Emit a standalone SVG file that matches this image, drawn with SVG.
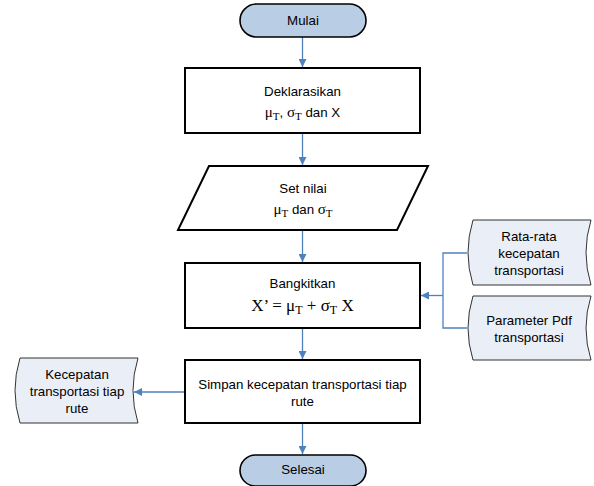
<svg xmlns="http://www.w3.org/2000/svg" width="594" height="486" viewBox="0 0 594 486">
<defs>
<style>
.term{fill:#B9CDE5;stroke:#000;stroke-width:1.6}
.box{fill:#fff;stroke:#000;stroke-width:2}
.data{fill:#E9EEF7;stroke:#333;stroke-width:1}
.t{font-family:"Liberation Sans",Arial,sans-serif;font-size:13.3px;fill:#000;text-anchor:middle}
.s{font-family:"Liberation Serif","Times New Roman",serif;font-size:15px}
.sub{font-size:11px}
.m{font-family:"Liberation Serif","Times New Roman",serif;font-size:17px;fill:#000;text-anchor:middle}
.m .sub{font-size:12px}
.c{fill:none;stroke:#4F81BD;stroke-width:1.3}
</style>
<marker id="ah" viewBox="0 0 10 10" refX="10" refY="5" markerWidth="8" markerHeight="8" markerUnits="userSpaceOnUse" orient="auto">
<path d="M0,0 L10,5 L0,10 Z" fill="#4F81BD"/>
</marker>
</defs>
<g id="connectors">
<line class="c" x1="302.5" y1="37" x2="302.5" y2="67" marker-end="url(#ah)"/>
<line class="c" x1="302.5" y1="133" x2="302.5" y2="165" marker-end="url(#ah)"/>
<line class="c" x1="302.5" y1="230" x2="302.5" y2="262" marker-end="url(#ah)"/>
<line class="c" x1="302.5" y1="328" x2="302.5" y2="359" marker-end="url(#ah)"/>
<line class="c" x1="302.5" y1="423" x2="302.5" y2="454" marker-end="url(#ah)"/>
<line class="c" x1="185" y1="392" x2="134" y2="392" marker-end="url(#ah)"/>
<path class="c" d="M467,253 H443 V328 H467"/>
<line class="c" x1="443" y1="295.5" x2="421" y2="295.5" marker-end="url(#ah)"/>
</g>
<g id="mulai">
<rect class="term" x="240" y="4" width="126" height="33" rx="16.5"/>
<text class="t" x="303" y="25">Mulai</text>
</g>
<g id="deklarasikan">
<rect class="box" x="185" y="68" width="235" height="65"/>
<text class="t" x="302.5" y="96">Deklarasikan</text>
<text class="t" x="302.5" y="117"><tspan class="s">μ</tspan><tspan class="s sub" dy="3">T</tspan><tspan dy="-3">, </tspan><tspan class="s">σ</tspan><tspan class="s sub" dy="3">T</tspan><tspan dy="-3"> dan X</tspan></text>
</g>
<g id="setnilai">
<path class="box" d="M209,166 H428 L397,230 H178 Z"/>
<text class="t" x="303" y="193">Set nilai</text>
<text class="t" x="303" y="214"><tspan class="s">μ</tspan><tspan class="s sub" dy="3">T</tspan><tspan dy="-3"> dan </tspan><tspan class="s">σ</tspan><tspan class="s sub" dy="3">T</tspan></text>
</g>
<g id="bangkitkan">
<rect class="box" x="185" y="263" width="235" height="65"/>
<text class="t" x="302.5" y="288">Bangkitkan</text>
<text class="m" x="302.5" y="311">X’ = μ<tspan class="sub" dy="3">T</tspan><tspan dy="-3"> +  σ</tspan><tspan class="sub" dy="3">T</tspan><tspan dy="-3"> X</tspan></text>
</g>
<g id="simpan">
<rect class="box" x="185" y="360" width="235" height="63"/>
<text class="t" x="302.5" y="389">Simpan kecepatan transportasi tiap</text>
<text class="t" x="302.5" y="406">rute</text>
</g>
<g id="selesai">
<rect class="term" x="240" y="455" width="126" height="31" rx="15.5"/>
<text class="t" x="303" y="474">Selesai</text>
</g>
<g id="ratarata">
<path class="data" d="M473,220 L591,220 Q581,252.5 591,285 L473,285 Q463,252.5 473,220 Z"/>
<text class="t" x="529" y="241">Rata-rata</text>
<text class="t" x="529" y="258">kecepatan</text>
<text class="t" x="529" y="275">transportasi</text>
</g>
<g id="parameter">
<path class="data" d="M473,296 L591,296 Q581,328 591,360 L473,360 Q463,328 473,296 Z"/>
<text class="t" x="529" y="325">Parameter Pdf</text>
<text class="t" x="529" y="342">transportasi</text>
</g>
<g id="kecepatan">
<path class="data" d="M20,358 L138,358 Q128,390.5 138,423 L20,423 Q10,390.5 20,358 Z"/>
<text class="t" x="77" y="379">Kecepatan</text>
<text class="t" x="77" y="396">transportasi tiap</text>
<text class="t" x="77" y="413">rute</text>
</g>
</svg>
